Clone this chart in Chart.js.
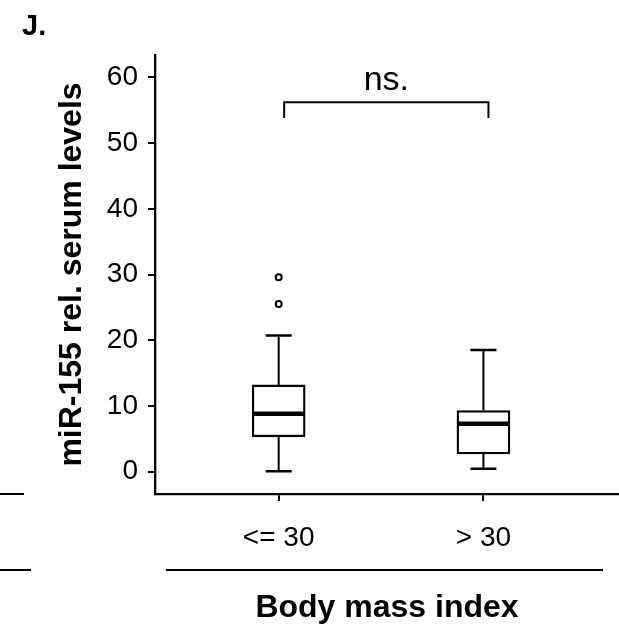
<!DOCTYPE html>
<html>
<head>
<meta charset="utf-8">
<script src="https://cdn.jsdelivr.net/npm/chart.js@4/dist/chart.umd.min.js"></script>
<style>
  html, body { margin: 0; padding: 0; background: #fff; }
  #wrap { width: 619px; height: 628px; position: relative; }
</style>
</head>
<body>
<div id="wrap"><canvas id="chart"></canvas></div>
<script>
// datos de las cajas
const groups = ['<= 30', '> 30'];
const groupPos = [1, 2];
const whiskerLow = [0.05, 0.45];
const q1 = [5.3, 2.7];
const median = [8.8, 7.3];
const q3 = [13.2, 9.3];
const whiskerHigh = [20.7, 18.5];
const outliers = [[25.5, 29.6], []];
const yTicks = [0, 10, 20, 30, 40, 50, 60];
const sigText = 'ns.';
const sigTop = 56.2;
const sigLegEnd = 53.8;

const fam = "'Liberation Sans', Arial, sans-serif";
Chart.defaults.font.family = fam;
Chart.defaults.color = '#000';

// bigotes, medianas, corchete y lineas sueltas
const boxExtras = {
  id: 'boxExtras',
  afterDatasetsDraw(chart) {
    const {ctx, chartArea, scales: {x, y}} = chart;
    ctx.save();
    ctx.strokeStyle = '#000';
    ctx.lineCap = 'butt';
    groupPos.forEach((g, i) => {
      const cx = x.getPixelForValue(g);
      ctx.lineWidth = 2;
      ctx.beginPath();
      ctx.moveTo(cx, y.getPixelForValue(q3[i]));
      ctx.lineTo(cx, y.getPixelForValue(whiskerHigh[i]));
      ctx.moveTo(cx, y.getPixelForValue(q1[i]));
      ctx.lineTo(cx, y.getPixelForValue(whiskerLow[i]));
      ctx.stroke();

      ctx.lineWidth = 2.5;
      ctx.beginPath();
      [whiskerHigh[i], whiskerLow[i]].forEach(v => {
        const py = y.getPixelForValue(v);
        ctx.moveTo(cx - 13, py);
        ctx.lineTo(cx + 13, py);
      });
      ctx.stroke();

      ctx.lineWidth = 4.5;
      const my = y.getPixelForValue(median[i]);
      ctx.beginPath();
      ctx.moveTo(cx - 25.5, my);
      ctx.lineTo(cx + 25.5, my);
      ctx.stroke();
    });

    // corchete ns.
    const x1 = x.getPixelForValue(groupPos[0]) + 5.5;
    const x2 = x.getPixelForValue(groupPos[1]) + 5;
    const yt = y.getPixelForValue(sigTop);
    const yb = y.getPixelForValue(sigLegEnd);
    ctx.lineWidth = 2;
    ctx.beginPath();
    ctx.moveTo(x1, yb);
    ctx.lineTo(x1, yt);
    ctx.lineTo(x2, yt);
    ctx.lineTo(x2, yb);
    ctx.stroke();
    ctx.fillStyle = '#000';
    ctx.font = '34px ' + fam;
    ctx.textAlign = 'center';
    ctx.textBaseline = 'alphabetic';
    ctx.fillText(sigText, (x1 + x2) / 2, yt - 12);

    // lineas bajo las etiquetas y restos del panel vecino
    const b = chartArea.bottom;
    ctx.lineWidth = 2;
    ctx.beginPath();
    ctx.moveTo(chartArea.left + 11, b + 76);
    ctx.lineTo(chartArea.left + 448, b + 76);
    ctx.moveTo(0, b);
    ctx.lineTo(24, b);
    ctx.moveTo(0, b + 76);
    ctx.lineTo(31, b + 76);
    ctx.stroke();
    ctx.restore();
  }
};

const ctx = document.getElementById('chart').getContext('2d');

new Chart(ctx, {
  type: 'bar',
  data: {
    datasets: [
      {
        type: 'bar',
        data: groupPos.map((g, i) => ({x: g, y: [q1[i], q3[i]]})),
        backgroundColor: '#fff',
        borderColor: '#000',
        borderWidth: 2.3,
        borderSkipped: false,
        barThickness: 53,
        grouped: false
      },
      {
        type: 'scatter',
        data: outliers.flatMap((arr, i) => arr.map(v => ({x: groupPos[i], y: v}))),
        pointRadius: 3,
        pointBorderWidth: 2,
        pointBackgroundColor: '#fff',
        pointBorderColor: '#000'
      }
    ]
  },
  options: {
    responsive: true,
    maintainAspectRatio: false,
    animation: false,
    layout: { autoPadding: false, padding: { left: 22, top: 0, right: 0, bottom: 0 } },
    plugins: {
      legend: { display: false },
      tooltip: { enabled: false },
      title: {
        display: true,
        text: 'J.',
        align: 'start',
        color: '#000',
        font: { size: 29, weight: 'bold' },
        padding: { top: 10, bottom: 10.2 }
      }
    },
    scales: {
      x: {
        type: 'linear',
        offset: false,
        min: 0.396,
        max: 2.662,
        afterBuildTicks: s => { s.ticks = groupPos.map(v => ({value: v})); },
        afterFit: s => { s.height = 134; },
        ticks: {
          callback: v => groups[groupPos.indexOf(v)],
          font: { size: 28 },
          color: '#000',
          padding: 20,
          maxRotation: 0,
          autoSkip: false
        },
        grid: { offset: false, drawOnChartArea: false, drawTicks: true, tickLength: 7, color: '#000', lineWidth: 2 },
        border: { display: true, color: '#000', width: 2.3 },
        title: {
          display: true,
          text: 'Body mass index',
          color: '#000',
          font: { size: 32, weight: 'bold' },
          padding: { top: 0, bottom: 1 }
        }
      },
      y: {
        min: -3.4,
        max: 63.4,
        afterBuildTicks: s => { s.ticks = yTicks.map(v => ({value: v})); },
        afterFit: s => { s.width = 133; },
        ticks: { font: { size: 28 }, color: '#000', padding: 10 },
        grid: { drawOnChartArea: false, drawTicks: true, tickLength: 7, color: '#000', lineWidth: 2 },
        border: { display: true, color: '#000', width: 2.3 },
        title: {
          display: true,
          text: 'miR-155 rel. serum levels',
          color: '#000',
          font: { size: 32, weight: 'bold' },
          padding: { top: 31, bottom: 0 }
        }
      }
    }
  },
  plugins: [boxExtras]
});
</script>
</body>
</html>
